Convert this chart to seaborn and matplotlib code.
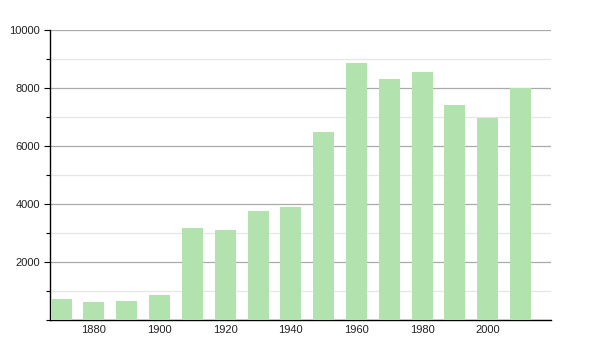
import matplotlib
matplotlib.use("Agg")
import matplotlib.pyplot as plt
import seaborn as sns
import pandas as pd
from matplotlib.ticker import MultipleLocator

years = [1870, 1880, 1890, 1900, 1910, 1920, 1930, 1940, 1950, 1960, 1970, 1980, 1990, 2000, 2010]
population = [710, 620, 655, 850, 3180, 3100, 3750, 3885, 6495, 8850, 8300, 8565, 7415, 6965, 7990]
x_ticks = [1880, 1900, 1920, 1940, 1960, 1980, 2000]
y_ticks = [2000, 4000, 6000, 8000, 10000]

sns.set_style("white")
plt.rcParams['font.family'] = ['Liberation Sans', 'DejaVu Sans']

df = pd.DataFrame({"year": years, "population": population})

fig = plt.figure(figsize=(6, 3.5), dpi=100)
ax = fig.add_axes([50/600, 30/350, 501/600, 290/350])

sns.barplot(data=df, x="year", y="population", native_scale=True, width=0.64,
            color="#b2e3ae", saturation=1, edgecolor="none", linewidth=0, ax=ax, zorder=3)

ax.set_xlim(1866.6, 2019.3)
ax.set_ylim(0, 10000)
ax.set_xticks(x_ticks)
ax.set_xticklabels([str(t) for t in x_ticks])
ax.set_yticks(y_ticks)
ax.set_yticklabels([str(t) for t in y_ticks])
ax.yaxis.set_minor_locator(MultipleLocator(1000))

ax.grid(True, which="major", axis="y", color="#aaaaaa", linewidth=0.9, zorder=1)
ax.grid(True, which="minor", axis="y", color="#e6e6e6", linewidth=0.9, zorder=1)
ax.set_axisbelow(True)

ax.set_xlabel("")
ax.set_ylabel("")
for s in ["top", "right"]:
    ax.spines[s].set_visible(False)
for s in ["left", "bottom"]:
    ax.spines[s].set_color("black")
    ax.spines[s].set_linewidth(1.0)

ax.tick_params(axis="x", which="both", length=0, labelsize=8, pad=3.5, colors="#222222")
ax.tick_params(axis="y", which="major", length=4, width=0.8, color="black", labelsize=8, pad=3, left=True, labelcolor="#222222")
ax.tick_params(axis="y", which="minor", length=3, width=0.8, color="black", left=True)

fig.savefig("out.png", dpi=100)
